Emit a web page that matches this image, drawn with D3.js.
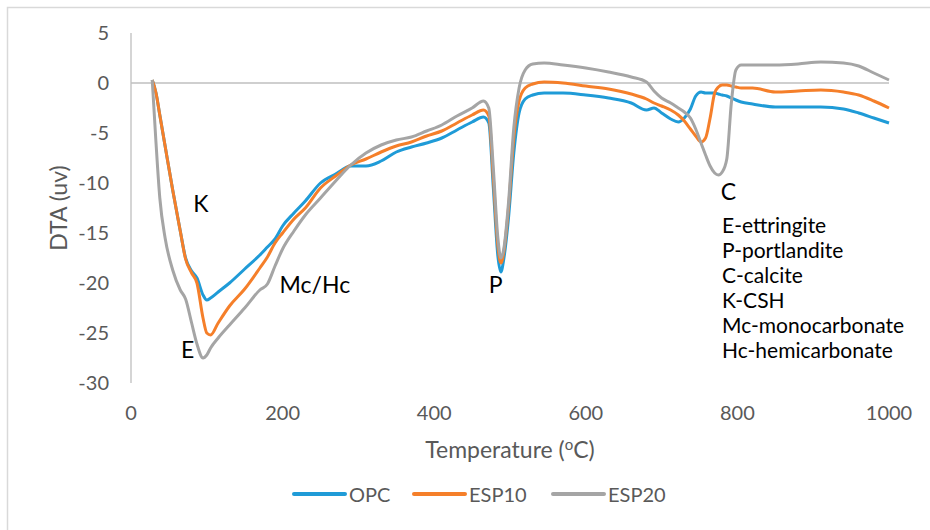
<!DOCTYPE html>
<html>
<head>
<meta charset="utf-8">
<script src="https://cdn.jsdelivr.net/npm/d3@7"></script>
<style>
    body { margin: 0; background: #fff; }
    text { font-family: Lato, "Noto Sans", sans-serif; }
</style>
</head>
<body>
<div id="chart_div"></div>
<script>

// temperatures (x) shared by the three samples
var temps = [28, 33, 38, 45, 55, 65, 72, 80, 87, 95, 100, 105, 115, 130, 150, 170, 180, 190, 200,
    215, 230, 250, 270, 290, 310, 330, 350, 370, 390, 410, 430, 450, 465, 472, 478, 484, 488, 492,
    498, 505, 512, 520, 530, 545, 570, 600, 630, 660, 680, 690, 700, 712, 722, 730, 738, 745, 752,
    758, 764, 770, 775, 780, 786, 792, 798, 805, 820, 850, 880, 910, 940, 960, 980, 1000];

var opc = [0.3, -1.0, -3.2, -6.3, -10.7, -14.8, -17.5, -18.8, -19.5, -21.2, -21.7, -21.5, -20.9, -20.0,
    -18.6, -17.2, -16.4, -15.6, -14.3, -13.0, -11.8, -10.0, -9.1, -8.3, -8.3, -7.8, -6.9, -6.4, -6.0,
    -5.5, -4.7, -3.9, -3.4, -4.0, -10.5, -17.3, -18.9, -17.5, -13.5, -7.0, -3.0, -1.6, -1.2, -1.0, -1.0,
    -1.2, -1.5, -2.0, -2.7, -2.5, -3.0, -3.6, -3.9, -3.5, -2.6, -1.3, -0.9, -1.0, -1.0, -1.0, -1.1, -1.2,
    -1.3, -1.5, -1.7, -1.9, -2.1, -2.4, -2.4, -2.4, -2.6, -3.0, -3.5, -4.0];

var esp10 = [0.3, -1.0, -3.2, -6.3, -10.7, -14.8, -17.6, -19.0, -20.0, -23.5, -25.0, -25.2, -24.0, -22.3,
    -20.6, -18.5, -17.4, -16.0, -15.0, -13.6, -12.5, -10.5, -9.3, -8.2, -7.6, -6.9, -6.3, -5.9, -5.3,
    -4.8, -4.0, -3.2, -2.7, -3.3, -9.5, -16.3, -18.0, -16.8, -12.5, -5.5, -1.8, -0.5, -0.1, 0.1, 0.0,
    -0.3, -0.6, -1.1, -1.6, -2.0, -2.3, -2.7, -3.2, -3.8, -4.6, -5.3, -5.9, -5.5, -3.5, -1.0, -0.4, -0.2,
    -0.2, -0.3, -0.4, -0.5, -0.5, -0.9, -0.8, -0.7, -0.9, -1.2, -1.8, -2.5];

var esp20 = [0.3, -6.0, -11.5, -15.5, -18.7, -20.7, -21.6, -24.0, -26.1, -27.5, -27.2, -26.5, -25.5, -24.2,
    -22.5, -20.7, -20.1, -18.3, -16.6, -14.8, -13.2, -11.5, -9.8, -8.2, -7.0, -6.2, -5.7, -5.4, -4.8,
    -4.2, -3.3, -2.5, -1.8, -2.5, -8.5, -15.5, -17.5, -16.5, -12.0, -4.5, -0.5, 1.3, 1.9, 2.0, 1.8,
    1.5, 1.1, 0.6, 0.1, -0.8, -1.5, -2.0, -2.5, -2.9, -3.5, -4.6, -6.0, -7.2, -8.3, -9.0, -9.2, -8.9,
    -7.6, -2.0, 1.3, 1.8, 1.8, 1.8, 1.9, 2.1, 2.0, 1.7, 1.0, 0.3];

var seriesNames = ["OPC", "ESP10", "ESP20"];
var seriesColors = ["#1f9bd7", "#f57f2a", "#a5a5a5"];
var seriesValues = [opc, esp10, esp20];

var xTicks = [0, 200, 400, 600, 800, 1000];
var yTicks = [5, 0, -5, -10, -15, -20, -25, -30];

// peak labels and the key
var peakLabels = [
    {text: "K", t: 82, v: -12.9},
    {text: "Mc/Hc", t: 196, v: -21.0},
    {text: "E", t: 66, v: -27.5},
    {text: "P", t: 472, v: -21.0},
    {text: "C", t: 778, v: -11.7}
];
var keyLines = ["E-ettringite", "P-portlandite", "C-calcite", "K-CSH", "Mc-monocarbonate", "Hc-hemicarbonate"];

var width = 930, height = 530;
var plot = {left: 131, right: 889, top: 33, bottom: 383};

var svg = d3.select("#chart_div")
    .append("svg")
    .attr("width", width)
    .attr("height", height);

// chart frame (only top and left edges are in view)
svg.append("rect")
    .attr("x", 7.5)
    .attr("y", 7.5)
    .attr("width", width + 20)
    .attr("height", height + 20)
    .attr("fill", "#fff")
    .attr("stroke", "#d9d9d9")
    .attr("stroke-width", 1.5);

var x = d3.scaleLinear().domain([0, 1000]).range([plot.left, plot.right]);
var y = d3.scaleLinear().domain([-30, 5]).range([plot.bottom, plot.top]);

// y axis line and zero line
svg.append("line")
    .attr("x1", x(0)).attr("x2", x(0))
    .attr("y1", y(5)).attr("y2", y(-30))
    .attr("stroke", "#bfbfbf").attr("stroke-width", 1.3);

svg.append("line")
    .attr("x1", x(0)).attr("x2", x(1000))
    .attr("y1", y(0)).attr("y2", y(0))
    .attr("stroke", "#bfbfbf").attr("stroke-width", 1.3);

// tick labels
svg.selectAll(".ylab")
    .data(yTicks)
    .enter().append("text")
    .attr("class", "ylab")
    .attr("x", 109)
    .attr("y", function(d) { return y(d) + 7; })
    .attr("text-anchor", "end")
    .attr("font-size", 20)
    .attr("fill", "#595959")
    .text(function(d) { return d; });

svg.selectAll(".xlab")
    .data(xTicks)
    .enter().append("text")
    .attr("class", "xlab")
    .attr("x", function(d) { return x(d); })
    .attr("y", 420)
    .attr("text-anchor", "middle")
    .attr("font-size", 20)
    .attr("fill", "#595959")
    .text(function(d) { return d; });

// axis titles
svg.append("text")
    .attr("transform", "translate(67," + ((plot.top + plot.bottom) / 2) + ") rotate(-90)")
    .attr("text-anchor", "middle")
    .attr("font-size", 23)
    .attr("fill", "#595959")
    .text("DTA (uv)");

var xTitle = svg.append("text")
    .attr("x", (plot.left + plot.right) / 2)
    .attr("y", 458)
    .attr("text-anchor", "middle")
    .attr("font-size", 23)
    .attr("fill", "#595959");
xTitle.append("tspan").text("Temperature (");
xTitle.append("tspan").attr("font-size", 15).attr("dy", -8).text("o");
xTitle.append("tspan").attr("dy", 8).text("C)");

// curves
var line = d3.line()
    .x(function(d) { return x(d[0]); })
    .y(function(d) { return y(d[1]); })
    .curve(d3.curveMonotoneX);

seriesValues.forEach(function(vals, i) {
    var pts = temps.map(function(t, j) { return [t, vals[j]]; });
    svg.append("path")
        .datum(pts)
        .attr("fill", "none")
        .attr("stroke", seriesColors[i])
        .attr("stroke-width", 3)
        .attr("stroke-linejoin", "round")
        .attr("d", line);
});

// peak labels
svg.selectAll(".peak")
    .data(peakLabels)
    .enter().append("text")
    .attr("class", "peak")
    .attr("x", function(d) { return x(d.t); })
    .attr("y", function(d) { return y(d.v); })
    .attr("font-size", 23)
    .attr("fill", "#000")
    .text(function(d) { return d.text; });

svg.selectAll(".key")
    .data(keyLines)
    .enter().append("text")
    .attr("class", "key")
    .attr("x", 722)
    .attr("y", function(d, i) { return 233 + i * 25; })
    .attr("font-size", 21)
    .attr("fill", "#000")
    .text(function(d) { return d; });

// legend
var legendX = [294, 414, 553];
var legend = svg.selectAll(".legend")
    .data(seriesNames)
    .enter().append("g")
    .attr("class", "legend")
    .attr("transform", function(d, i) { return "translate(" + legendX[i] + ",494)"; });

legend.append("line")
    .attr("x1", 0).attr("x2", 51)
    .attr("stroke", function(d, i) { return seriesColors[i]; })
    .attr("stroke-width", 4)
    .attr("stroke-linecap", "round");

legend.append("text")
    .attr("x", 55)
    .attr("y", 8)
    .attr("font-size", 20)
    .attr("fill", "#595959")
    .text(function(d) { return d; });

</script>
</body>
</html>
